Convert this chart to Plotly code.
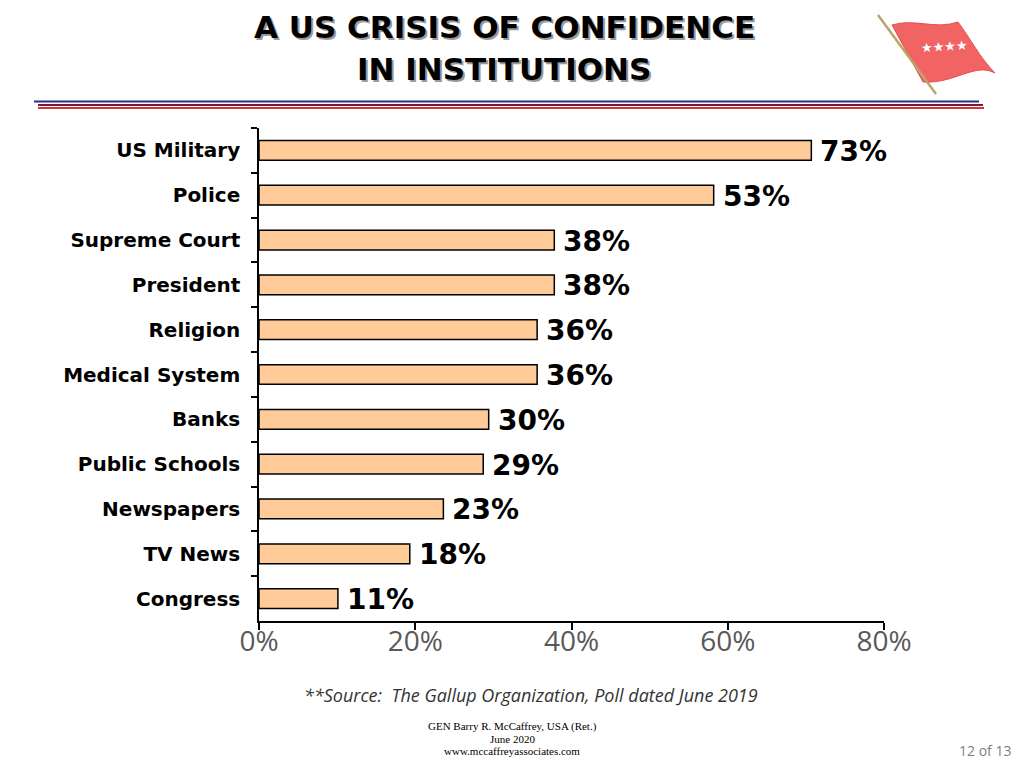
import plotly.graph_objects as go

# ---------------- data ----------------
categories = ["US Military", "Police", "Supreme Court", "President", "Religion",
              "Medical System", "Banks", "Public Schools", "Newspapers", "TV News", "Congress"]
# bar lengths as drawn in the picture (share of respondents)
bar_values = [0.707, 0.582, 0.378, 0.378, 0.356, 0.356, 0.294, 0.287, 0.236, 0.193, 0.101]
# value labels as printed
value_labels = ["73%", "53%", "38%", "38%", "36%", "36%", "30%", "29%", "23%", "18%", "11%"]
x_ticks = [0, 0.2, 0.4, 0.6, 0.8]
x_tick_text = ["0%", "20%", "40%", "60%", "80%"]

title_lines = ["A US CRISIS OF CONFIDENCE", "IN INSTITUTIONS"]
source_text = "**Source:  The Gallup Organization, Poll dated June 2019"
footer_lines = ["GEN Barry R. McCaffrey, USA (Ret.)", "June 2020", "www.mccaffreyassociates.com"]
page_text = "12 of 13"

# ---------------- layout geometry (page pixels) ----------------
OFF = 8                      # page body margin
W, H = 1024 - 2 * OFF, 768 - 2 * OFF
L, R, T, B = 259, 884, 128, 621


def px(x):
    return (x - L) / (R - L)


def py(y):
    return (B - y) / (B - T)


fig = go.Figure()
fig.add_trace(go.Bar(
    y=categories, x=bar_values, orientation="h",
    width=0.44,
    marker=dict(color="#FFCC99", line=dict(color="#000000", width=1.5)),
    hoverinfo="skip",
))

annotations = []
for cat, v, t in zip(categories, bar_values, value_labels):
    annotations.append(dict(
        x=v, y=cat, xref="x", yref="y", text=f"<b>{t}</b>", showarrow=False,
        xanchor="left", yanchor="middle", xshift=7, yshift=-1,
        font=dict(family="DejaVu Sans", size=28, color="#000000"),
    ))

# title with shadow
for i, line in enumerate(title_lines):
    yc = 27 + i * 42
    annotations.append(dict(
        x=px(504), y=py(yc), xref="paper", yref="paper", text=f"<b>{line}</b>",
        showarrow=False, xanchor="center", yanchor="middle", xshift=2, yshift=-2,
        font=dict(family="DejaVu Sans", size=31, color="#9A9A9A"),
    ))
    annotations.append(dict(
        x=px(504), y=py(yc), xref="paper", yref="paper", text=f"<b>{line}</b>",
        showarrow=False, xanchor="center", yanchor="middle",
        font=dict(family="DejaVu Sans", size=31, color="#000000"),
    ))

annotations.append(dict(
    x=px(531), y=py(695), xref="paper", yref="paper", text=f"<i>{source_text}</i>",
    showarrow=False, xanchor="center", yanchor="middle",
    font=dict(family="Open Sans", size=18, color="#333333"),
))
for i, line in enumerate(footer_lines):
    annotations.append(dict(
        x=px(512), y=py(726 + i * 12.5), xref="paper", yref="paper", text=line,
        showarrow=False, xanchor="center", yanchor="middle",
        font=dict(family="Liberation Serif", size=11, color="#000000"),
    ))
annotations.append(dict(
    x=px(1013), y=py(750), xref="paper", yref="paper", text=page_text,
    showarrow=False, xanchor="right", yanchor="middle",
    font=dict(family="Open Sans", size=14, color="#7F7F7F"),
))
# flag stars
annotations.append(dict(
    x=px(944), y=py(47), xref="paper", yref="paper", text="★★★★",
    showarrow=False, xanchor="center", yanchor="middle", textangle=-4,
    font=dict(family="DejaVu Sans", size=13, color="#FFFFFF"),
))

shapes = []
# header rules
shapes.append(dict(type="line", xref="paper", yref="paper", x0=px(34), x1=px(979), y0=py(101.5), y1=py(101.5),
                   line=dict(color="#2B2B8C", width=2)))
shapes.append(dict(type="line", xref="paper", yref="paper", x0=px(38), x1=px(983), y0=py(105), y1=py(105),
                   line=dict(color="#7A1A3A", width=2)))
shapes.append(dict(type="line", xref="paper", yref="paper", x0=px(38), x1=px(984), y0=py(108), y1=py(108),
                   line=dict(color="#E03030", width=2)))


def pth(points):
    s = ""
    for cmd, pts in points:
        s += cmd + " " + " ".join(f"{px(a):.5f},{py(b):.5f}" for a, b in pts) + " "
    return s + "Z"


flag_path = pth([
    ("M", [(892, 25)]),
    ("C", [(915, 18), (935, 30), (958, 22)]),
    ("C", [(970, 38), (980, 58), (995, 73)]),
    ("C", [(975, 62), (955, 84), (923, 82)]),
    ("L", [(892, 25)]),
])
shapes.append(dict(type="path", xref="paper", yref="paper", path=flag_path,
                   fillcolor="#F26464", line=dict(color="#E05050", width=1)))
shapes.append(dict(type="line", xref="paper", yref="paper", x0=px(878), y0=py(15), x1=px(936), y1=py(94),
                   line=dict(color="#B8A66A", width=2.5)))

fig.update_layout(
    width=W, height=H,
    margin=dict(l=L - OFF, r=(W + OFF) - R, t=T - OFF, b=(H + OFF) - B, pad=0),
    paper_bgcolor="#FFFFFF", plot_bgcolor="#FFFFFF",
    showlegend=False,
    annotations=annotations,
    shapes=shapes,
    xaxis=dict(
        range=[0, 0.8], tickvals=x_ticks, ticktext=x_tick_text,
        showgrid=False, zeroline=False,
        showline=True, linecolor="#000000", linewidth=1.5,
        ticks="outside", ticklen=7, tickcolor="#000000", tickwidth=1.5,
        ticklabelstandoff=-12,
        tickfont=dict(family="Open Sans", size=28, color="#595959"),
        fixedrange=True,
    ),
    yaxis=dict(
        categoryorder="array", categoryarray=categories, autorange="reversed",
        showgrid=False, zeroline=False,
        showline=True, linecolor="#000000", linewidth=1.5,
        ticks="outside", ticklen=6, tickcolor="#000000", tickwidth=1.5,
        tickson="boundaries",
        ticklabelstandoff=13,
        tickfont=dict(family="DejaVu Sans", size=20, color="#000000", weight="bold"),
        fixedrange=True,
    ),
)

fig.write_html("out.html", config={"displayModeBar": False})
